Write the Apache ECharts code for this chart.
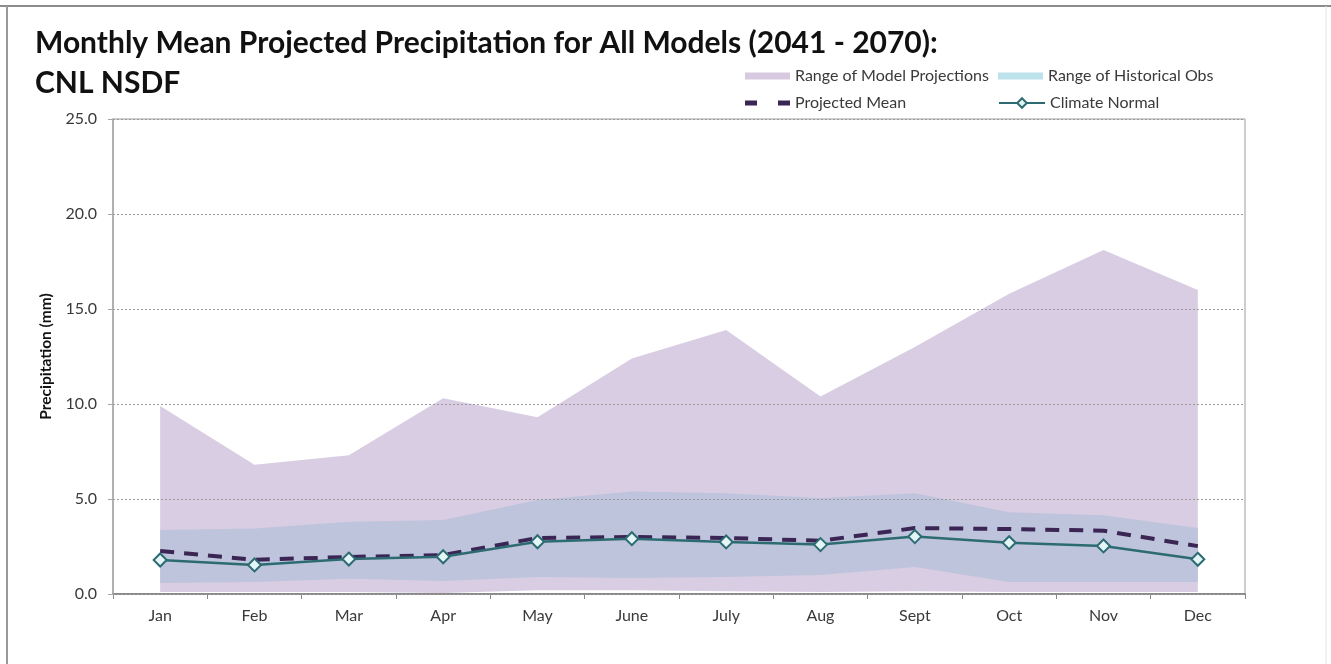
<!DOCTYPE html>
<html>
<head>
<meta charset="utf-8">
<script src="https://cdn.jsdelivr.net/npm/echarts@6/dist/echarts.min.js"></script>
<style>
  html, body { margin: 0; padding: 0; background: #ffffff; }
  #chart { width: 1331px; height: 664px; }
</style>
</head>
<body>
<div id="chart"></div>
<script>
// Monthly precipitation (mm), 2041-2070 projections vs. historical observations
const months = ['Jan', 'Feb', 'Mar', 'Apr', 'May', 'June', 'July', 'Aug', 'Sept', 'Oct', 'Nov', 'Dec'];

// Range of model projections
const modelMin = [0.1, 0.1, 0.1, 0.05, 0.2, 0.2, 0.15, 0.1, 0.15, 0.1, 0.1, 0.1];
const modelMax = [9.9, 6.8, 7.3, 10.3, 9.3, 12.4, 13.9, 10.4, 13.0, 15.8, 18.1, 16.0];

// Range of historical observations
const obsMin = [0.58, 0.63, 0.8, 0.68, 0.9, 0.84, 0.9, 1.0, 1.42, 0.63, 0.63, 0.63];
const obsMax = [3.37, 3.45, 3.8, 3.9, 4.95, 5.4, 5.3, 5.05, 5.3, 4.3, 4.15, 3.47];

// Mean of the model projections
const projectedMean = [2.26, 1.8, 1.95, 2.05, 2.95, 3.0, 2.95, 2.8, 3.47, 3.42, 3.33, 2.52];

// Climate normal
const climateNormal = [1.79, 1.53, 1.84, 1.96, 2.75, 2.91, 2.74, 2.6, 3.02, 2.7, 2.53, 1.83];

const yTicks = [0, 5, 10, 15, 20, 25];

const diff = (hi, lo) => hi.map((v, i) => +(v - lo[i]).toFixed(3));

const font = 'Lato, "Open Sans", sans-serif';
const textColor = '#3a3a3a';
const lavender = '#d9cde3';
const obsFill = '#bec4dc';
const meanColor = '#3b2554';
const normalColor = '#2d6b72';

const chart = echarts.init(document.getElementById('chart'), null, { renderer: 'canvas' });

const legendBase = {
  orient: 'horizontal',
  itemGap: 0,
  textStyle: { color: textColor, fontFamily: font, fontSize: 16 },
  selectedMode: false
};

const option = {
  backgroundColor: '#ffffff',
  animation: false,
  title: [
    {
      text: 'Monthly Mean Projected Precipitation for All Models (2041 - 2070):',
      left: 30, top: 23,
      textStyle: { fontFamily: font, fontWeight: 'bold', fontSize: 30, color: '#111111' }
    },
    {
      text: 'CNL NSDF',
      left: 30, top: 63,
      textStyle: { fontFamily: font, fontWeight: 'bold', fontSize: 30, color: '#111111' }
    }
  ],
  legend: [
    Object.assign({}, legendBase, {
      left: 740, top: 63,
      data: [{ name: 'Range of Model Projections', icon: 'rect', itemStyle: { color: '#d6c9e0' } }],
      itemWidth: 45, itemHeight: 7
    }),
    Object.assign({}, legendBase, {
      left: 993, top: 63,
      data: [{ name: 'Range of Historical Obs', icon: 'rect', itemStyle: { color: '#bde2ec' } }],
      itemWidth: 45, itemHeight: 7
    }),
    Object.assign({}, legendBase, {
      left: 740, top: 90,
      data: [{
        name: 'Projected Mean',
        icon: 'path://M0,0h12v5h-12z M33,0h12v5h-12z',
        itemStyle: { color: meanColor, borderWidth: 0 }
      }],
      itemWidth: 45, itemHeight: 5
    }),
    Object.assign({}, legendBase, {
      left: 993, top: 90,
      data: [{ name: 'Climate Normal' }],
      itemWidth: 46, itemHeight: 12
    })
  ],
  graphic: [
    { type: 'line', shape: { x1: 0, y1: 6, x2: 1331, y2: 6 }, style: { stroke: '#8c8c8c', lineWidth: 2 }, silent: true },
    { type: 'line', shape: { x1: 7, y1: 6, x2: 7, y2: 664 }, style: { stroke: '#9a9a9a', lineWidth: 2 }, silent: true },
    { type: 'line', shape: { x1: 1326, y1: 6, x2: 1326, y2: 664 }, style: { stroke: '#e4e4e4', lineWidth: 1 }, silent: true }
  ],
  grid: {
    left: 113, right: 86, top: 119, bottom: 70,
    show: true, borderColor: '#9c9c9c', borderWidth: 1, backgroundColor: 'transparent'
  },
  xAxis: {
    type: 'category',
    data: months,
    boundaryGap: true,
    axisLine: { lineStyle: { color: '#8a8a8a', width: 2 } },
    axisTick: { show: true, length: 5, lineStyle: { color: '#8a8a8a' } },
    axisLabel: { color: textColor, fontFamily: font, fontSize: 16, margin: 14 },
    splitLine: { show: false }
  },
  yAxis: {
    type: 'value',
    min: yTicks[0], max: yTicks[yTicks.length - 1], interval: 5,
    z: 3,
    name: 'Precipitation (mm)',
    nameLocation: 'middle',
    nameGap: 55,
    nameRotate: 90,
    nameTextStyle: { color: '#111111', fontFamily: font, fontWeight: 'bold', fontSize: 15.5 },
    axisLine: { show: true, lineStyle: { color: '#a6a6a6', width: 1.5 } },
    axisTick: { show: true, length: 5, lineStyle: { color: '#a6a6a6' } },
    axisLabel: {
      color: textColor, fontFamily: font, fontSize: 16, margin: 16,
      formatter: v => v.toFixed(1)
    },
    splitLine: { show: true, lineStyle: { color: '#9a9a9a', type: [2, 2], width: 1 } }
  },
  series: [
    {
      name: 'modelLow', type: 'line', stack: 'model', data: modelMin,
      symbol: 'none', lineStyle: { opacity: 0 }, silent: true, z: 1
    },
    {
      name: 'Range of Model Projections', type: 'line', stack: 'model', data: diff(modelMax, modelMin),
      symbol: 'none', lineStyle: { opacity: 0, width: 0 },
      itemStyle: { color: '#d6c9e0' },
      areaStyle: { color: lavender, opacity: 1 }, z: 1
    },
    {
      name: 'obsLow', type: 'line', stack: 'obs', data: obsMin,
      symbol: 'none', lineStyle: { opacity: 0 }, silent: true, z: 1
    },
    {
      name: 'Range of Historical Obs', type: 'line', stack: 'obs', data: diff(obsMax, obsMin),
      symbol: 'none', lineStyle: { opacity: 0, width: 0 },
      itemStyle: { color: '#bde2ec' },
      areaStyle: { color: obsFill, opacity: 1 }, z: 1
    },
    {
      name: 'Projected Mean', type: 'line', data: projectedMean,
      symbol: 'none',
      itemStyle: { color: meanColor },
      lineStyle: { color: meanColor, width: 4, type: [14, 10] }, z: 4
    },
    {
      name: 'Climate Normal', type: 'line', data: climateNormal,
      symbol: 'diamond', symbolSize: 13, showSymbol: true,
      itemStyle: { color: '#e3f5f4', borderColor: normalColor, borderWidth: 2 },
      lineStyle: { color: normalColor, width: 2.5 }, z: 5
    }
  ]
};

chart.setOption(option);
</script>
</body>
</html>
